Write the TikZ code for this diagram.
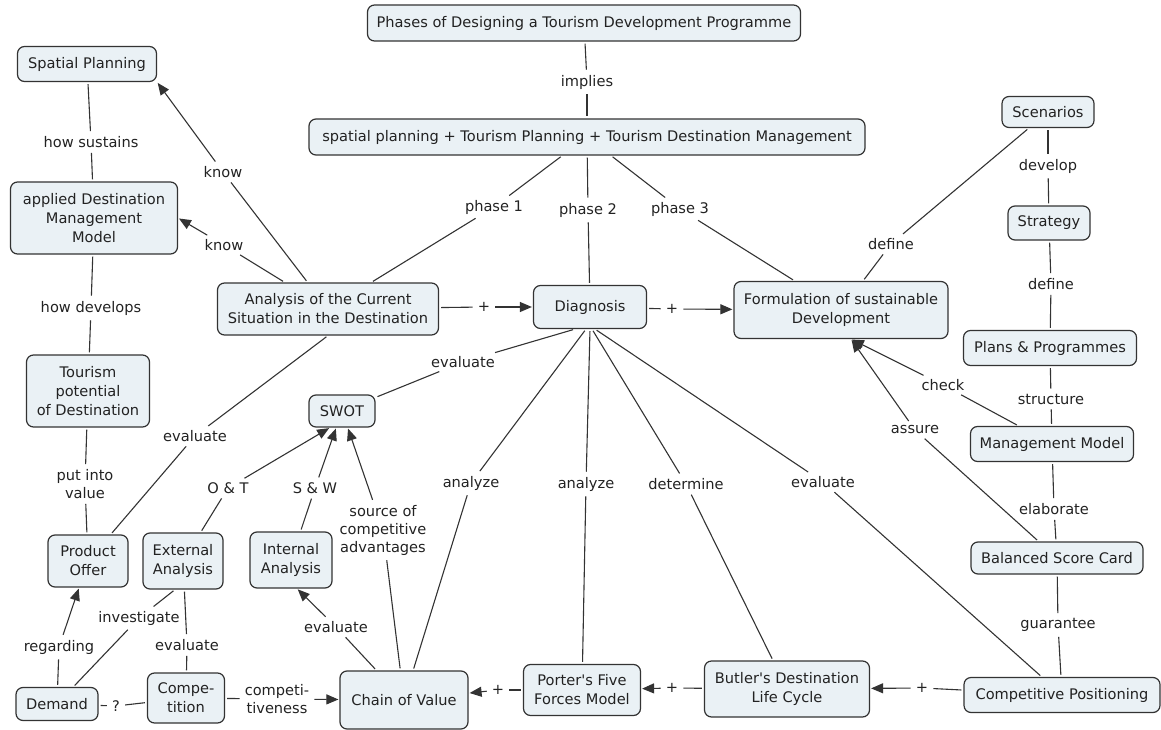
\documentclass[tikz,border=0pt]{standalone}
\usepackage{fontspec}
\setmainfont{DejaVu Sans}
\usetikzlibrary{arrows.meta,positioning}
\definecolor{cmfill}{RGB}{234,241,245}
\definecolor{cmline}{RGB}{51,51,51}
\definecolor{cmtext}{RGB}{34,34,34}
\tikzset{
  concept/.style 2 args={draw=cmline, line width=1.2pt, fill=cmfill, rounded corners=7pt,
    text=cmtext, align=center, inner sep=2pt, minimum width=#1, minimum height=#2,
    font=\fontsize{14.6}{19}\selectfont},
  phrase/.style={text=cmtext, align=center, inner sep=3pt, font=\fontsize{14.6}{18}\selectfont},
  link/.style={draw=cmline, line width=1.1pt, shorten <=2pt, shorten >=2pt},
  linkarrow/.style={link, -{Triangle[length=12pt,width=10pt]}, shorten >=1pt},
}

\begin{document}
\begin{tikzpicture}[x=1pt, y=-1pt]
\useasboundingbox (0,0) rectangle (1161,730);

% --- Concepts ---
\node[concept={433pt}{36pt}] (phases) at (584,23) {Phases of Designing a Tourism Development Programme};
\node[concept={556pt}{36pt}] (planning) at (587,137) {spatial planning + Tourism Planning + Tourism Destination Management};
\node[concept={139pt}{35pt}] (spatial) at (87,64) {Spatial Planning};
\node[concept={167pt}{72pt}] (dmm) at (94,218) {applied Destination\\Management\\Model};
\node[concept={221pt}{52pt}] (analysis) at (328,309) {Analysis of the Current\\Situation in the Destination};
\node[concept={113pt}{43pt}] (diagnosis) at (590,307) {Diagnosis};
\node[concept={214pt}{57pt}] (formulation) at (841,310) {Formulation of sustainable\\Development};
\node[concept={92pt}{31pt}] (scenarios) at (1048,112) {Scenarios};
\node[concept={82pt}{34pt}] (strategy) at (1049,223) {Strategy};
\node[concept={173pt}{35pt}] (plans) at (1050,348) {Plans \& Programmes};
\node[concept={163pt}{35pt}] (mgmt) at (1052,444) {Management Model};
\node[concept={172pt}{32pt}] (bsc) at (1057,558) {Balanced Score Card};
\node[concept={123pt}{72pt}] (potential) at (88,391) {Tourism\\potential\\of Destination};
\node[concept={66pt}{32pt}] (swot) at (342,411) {SWOT};
\node[concept={80pt}{52pt}] (product) at (88,561) {Product\\Offer};
\node[concept={80pt}{56pt}] (external) at (183,561) {External\\Analysis};
\node[concept={82pt}{56pt}] (internal) at (291,560) {Internal\\Analysis};
\node[concept={82pt}{33pt}] (demand) at (57,704) {Demand};
\node[concept={77pt}{50pt}] (competition) at (186,698) {Compe-\\tition};
\node[concept={128pt}{58pt}] (chain) at (404,700) {Chain of Value};
\node[concept={117pt}{51pt}] (porter) at (582,690) {Porter\textquotesingle s Five\\Forces Model};
\node[concept={165pt}{56pt}] (butler) at (787,689) {Butler\textquotesingle s Destination\\Life Cycle};
\node[concept={196pt}{35pt}] (position) at (1062,695) {Competitive Positioning};

% --- Linking phrases ---
\node[phrase] (implies) at (587,82) {implies};
\node[phrase] (phaseone) at (494,207) {phase 1};
\node[phrase] (phasetwo) at (588,210) {phase 2};
\node[phrase] (phasethree) at (680,209) {phase 3};
\node[phrase] (sustains) at (91,142) {how sustains};
\node[phrase] (knowsp) at (223,172) {know};
\node[phrase] (knowdm) at (224,245) {know};
\node[phrase] (develops) at (91,308) {how develops};
\node[phrase] (evalprod) at (195,436) {evaluate};
\node[phrase] (intovalue) at (85,484) {put into\\value};
\node[phrase] (ot) at (228,488) {O \& T};
\node[phrase] (sw) at (315,488) {S \& W};
\node[phrase] (source) at (383,530) {source of\\competitive\\advantages};
\node[phrase] (evalswot) at (463,362) {evaluate};
\node[phrase] (analyzecv) at (471,483) {analyze};
\node[phrase] (analyzepf) at (586,484) {analyze};
\node[phrase] (determine) at (686,484) {determine};
\node[phrase] (evalpos) at (823,482) {evaluate};
\node[phrase] (plusad) at (484,307) {+};
\node[phrase] (plusdf) at (672,309) {+};
\node[phrase] (definesc) at (891,244) {define};
\node[phrase] (develop) at (1048,166) {develop};
\node[phrase] (definepl) at (1051,284) {define};
\node[phrase] (structure) at (1051,399) {structure};
\node[phrase] (check) at (943,385) {check};
\node[phrase] (assure) at (915,430) {assure};
\node[phrase] (elaborate) at (1054,509) {elaborate};
\node[phrase] (guarantee) at (1058,625) {guarantee};
\node[phrase] (investigate) at (139,618) {investigate};
\node[phrase] (regarding) at (59,647) {regarding};
\node[phrase] (evalext) at (187,645) {evaluate};
\node[phrase] (evalint) at (336,627) {evaluate};
\node[phrase] (query) at (116,706) {?};
\node[phrase] (compet) at (277,699) {competi-\\tiveness};
\node[phrase] (pluscp) at (498,690) {+};
\node[phrase] (pluspb) at (672,688) {+};
\node[phrase] (plusbp) at (922,688) {+};

% --- Top: phases ---
\draw[link] (phases) -- (implies);
\draw[link] (implies) -- (planning);
\draw[link] (planning) -- (phaseone);
\draw[link] (phaseone) -- (analysis);
\draw[link] (planning) -- (phasetwo);
\draw[link] (phasetwo) -- (diagnosis);
\draw[link] (planning) -- (phasethree);
\draw[link] (phasethree) -- (formulation);
\draw[link] (analysis) -- (plusad);
\draw[linkarrow] (plusad) -- (diagnosis);
\draw[link] (diagnosis) -- (plusdf);
\draw[linkarrow] (plusdf) -- (formulation);

% --- Left column ---
\draw[link] (spatial) -- (sustains);
\draw[link] (sustains) -- (dmm);
\draw[link] (dmm) -- (develops);
\draw[link] (develops) -- (potential);
\draw[link] (potential) -- (intovalue);
\draw[link] (intovalue) -- (product);
\draw[link] (analysis) -- (knowsp);
\draw[linkarrow] (knowsp) -- (spatial.south east);
\draw[link] (analysis) -- (knowdm);
\draw[linkarrow] (knowdm) -- (dmm.east);
\draw[link] (analysis.south) -- (evalprod);
\draw[link] (evalprod) -- (product);

% --- SWOT and analyses ---
\draw[link] ([xshift=-15pt]diagnosis.south) -- (evalswot);
\draw[link] (evalswot) -- (swot);
\draw[link] (external) -- (ot);
\draw[linkarrow] (ot) -- ([xshift=-12pt]swot.south);
\draw[link] (internal) -- (sw);
\draw[linkarrow] (sw) -- (swot);
\draw[link] (chain) -- (source);
\draw[linkarrow] (source) -- (swot);
\draw[link] (chain) -- (evalint);
\draw[linkarrow] (evalint) -- ([xshift=6pt]internal.south);
\draw[link] (demand) -- (regarding);
\draw[linkarrow] (regarding) -- (product);
\draw[link] (demand) -- (investigate);
\draw[link] (investigate) -- ([xshift=-8pt]external.south);
\draw[link] (competition) -- (evalext);
\draw[link] (evalext) -- (external);
\draw[link] (demand) -- (query);
\draw[link] (query) -- (competition);
\draw[link] (competition) -- (compet);
\draw[linkarrow] (compet) -- (chain);

% --- Diagnosis fan ---
\draw[link] ([xshift=-4pt]diagnosis.south) -- (analyzecv);
\draw[link] (analyzecv) -- (chain);
\draw[link] (diagnosis.south) -- (analyzepf);
\draw[link] (analyzepf) -- (porter);
\draw[link] ([xshift=2pt]diagnosis.south) -- (determine);
\draw[link] (determine) -- (butler);
\draw[link] ([xshift=5pt]diagnosis.south) -- (evalpos);
\draw[link] (evalpos) -- (position);

% --- Bottom chain ---
\draw[link] (porter) -- (pluscp);
\draw[linkarrow] (pluscp) -- (chain);
\draw[link] (butler) -- (pluspb);
\draw[linkarrow] (pluspb) -- (porter);
\draw[link] (position) -- (plusbp);
\draw[linkarrow] (plusbp) -- (butler);

% --- Right column ---
\draw[link] (formulation) -- (definesc);
\draw[link] (definesc) -- (scenarios);
\draw[link] (scenarios) -- (develop);
\draw[link] (develop) -- (strategy);
\draw[link] (strategy) -- (definepl);
\draw[link] (definepl) -- (plans);
\draw[link] (plans) -- (structure);
\draw[link] (structure) -- (mgmt);
\draw[link] (mgmt) -- (check);
\draw[linkarrow] (check) -- ([xshift=10pt]formulation.south);
\draw[link] (bsc) -- (assure);
\draw[linkarrow] (assure) -- ([xshift=10pt]formulation.south);
\draw[link] (mgmt) -- (elaborate);
\draw[link] (elaborate) -- (bsc);
\draw[link] (bsc) -- (guarantee);
\draw[link] (guarantee) -- (position);

\end{tikzpicture}
\end{document}
